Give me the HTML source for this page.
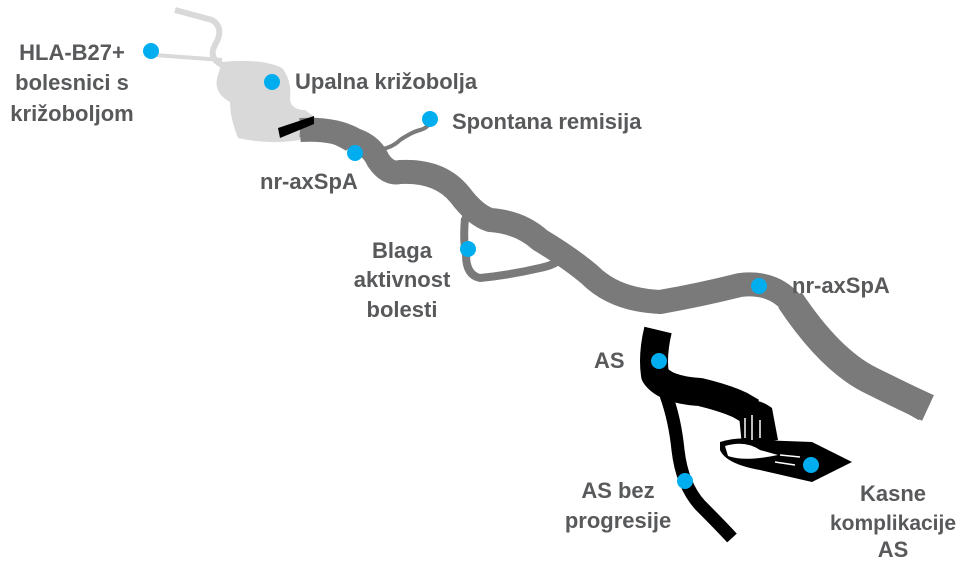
<!DOCTYPE html>
<html><head><style>
body{margin:0;background:#fff;width:960px;height:559px;overflow:hidden}
svg text{font-family:"Liberation Sans",sans-serif;font-weight:bold;font-size:22px;fill:#58595b}
</style></head><body>
<svg width="960" height="559" viewBox="0 0 960 559">
<path d="M175 10 L212 20 Q225 28 215 45 Q208 58 222 65" fill="none" stroke="#d9d9d9" stroke-width="6"/>
<path d="M155 55 L222 60" fill="none" stroke="#d9d9d9" stroke-width="4"/>
<path d="M222 62 Q262 58 282 68 Q292 80 290 100 Q292 110 305 110 L316 118 L300 140 Q268 145 238 138 Q230 118 230 102 Q212 92 218 75 Z" fill="#d9d9d9"/>
<path d="M300 130 Q335 128 355 140 Q372 146 378 160 Q388 175 400 172 Q440 170 460 195 Q475 215 490 220 Q520 222 540 240 Q570 258 590 275 Q615 300 660 302 Q700 295 740 285 Q780 280 800 315 Q830 360 870 380 Q900 395 925 410" fill="none" stroke="#7a7a7a" stroke-width="24" stroke-linejoin="round"/>
<path d="M790 300 Q830 360 870 380 Q900 395 928 408" fill="none" stroke="#7a7a7a" stroke-width="28"/>
<path d="M300 130 Q330 132 350 145" fill="none" stroke="#7a7a7a" stroke-width="14"/>
<path d="M465 218 Q463 240 466 255 Q466 275 480 278 Q510 275 540 268 Q555 265 562 258" fill="none" stroke="#7a7a7a" stroke-width="8"/>
<path d="M462 218 L492 218" stroke="#7a7a7a" stroke-width="6"/>
<path d="M372 150 Q390 150 400 140 Q412 132 420 130 Q428 128 432 120" fill="none" stroke="#7a7a7a" stroke-width="4"/>
<path d="M278 128 L314 116 L314 124 L280 138 Z" fill="#000"/>
<path d="M658 330 Q652 355 655 375 Q665 390 700 392 Q725 398 740 405 L752 412" fill="none" stroke="#000" stroke-width="28" stroke-linejoin="round"/>
<path d="M666 395 Q675 420 678 450 Q682 485 700 505 Q720 525 732 538" fill="none" stroke="#000" stroke-width="13"/>
<path d="M738 405 Q755 395 772 408 L778 440 L742 446 Z" fill="#000"/>
<path d="M720 442 Q740 436 760 440 L812 442 L852 462 L812 482 L760 470 Q726 464 720 450 Z" fill="#000"/>
<path d="M725 446 Q745 440 760 450 L778 455 Q745 462 728 456 Z" fill="#fff"/>
<g stroke="#fff" stroke-width="1.5"><line x1="745" y1="418" x2="745" y2="438"/><line x1="752" y1="415" x2="752" y2="440"/><line x1="760" y1="420" x2="760" y2="438"/><line x1="780" y1="455" x2="800" y2="457"/><line x1="775" y1="462" x2="795" y2="465"/></g>
<g fill="#00aeef">
<circle cx="151" cy="51" r="8"/><circle cx="272" cy="82" r="8"/><circle cx="430" cy="119" r="8"/>
<circle cx="355" cy="153" r="8"/><circle cx="468" cy="249" r="8"/><circle cx="759" cy="286" r="8"/>
<circle cx="659" cy="361" r="8"/><circle cx="685" cy="481" r="8"/><circle cx="811" cy="465" r="8"/>
</g>
<text x="72" y="60" text-anchor="middle">HLA-B27+</text>
<text x="72" y="90" text-anchor="middle">bolesnici s</text>
<text x="72" y="121" text-anchor="middle">križoboljom</text>
<text x="295" y="89">Upalna križobolja</text>
<text x="452" y="129">Spontana remisija</text>
<text x="260" y="189">nr-axSpA</text>
<text x="402" y="258" text-anchor="middle">Blaga</text>
<text x="402" y="287" text-anchor="middle">aktivnost</text>
<text x="402" y="317" text-anchor="middle">bolesti</text>
<text x="792" y="293">nr-axSpA</text>
<text x="594" y="368">AS</text>
<text x="618" y="498" text-anchor="middle">AS bez</text>
<text x="618" y="528" text-anchor="middle">progresije</text>
<text x="893" y="501" text-anchor="middle">Kasne</text>
<text x="893" y="530" text-anchor="middle" style="font-size:21px">komplikacije</text>
<text x="893" y="557" text-anchor="middle">AS</text>
</svg>
</body></html>
